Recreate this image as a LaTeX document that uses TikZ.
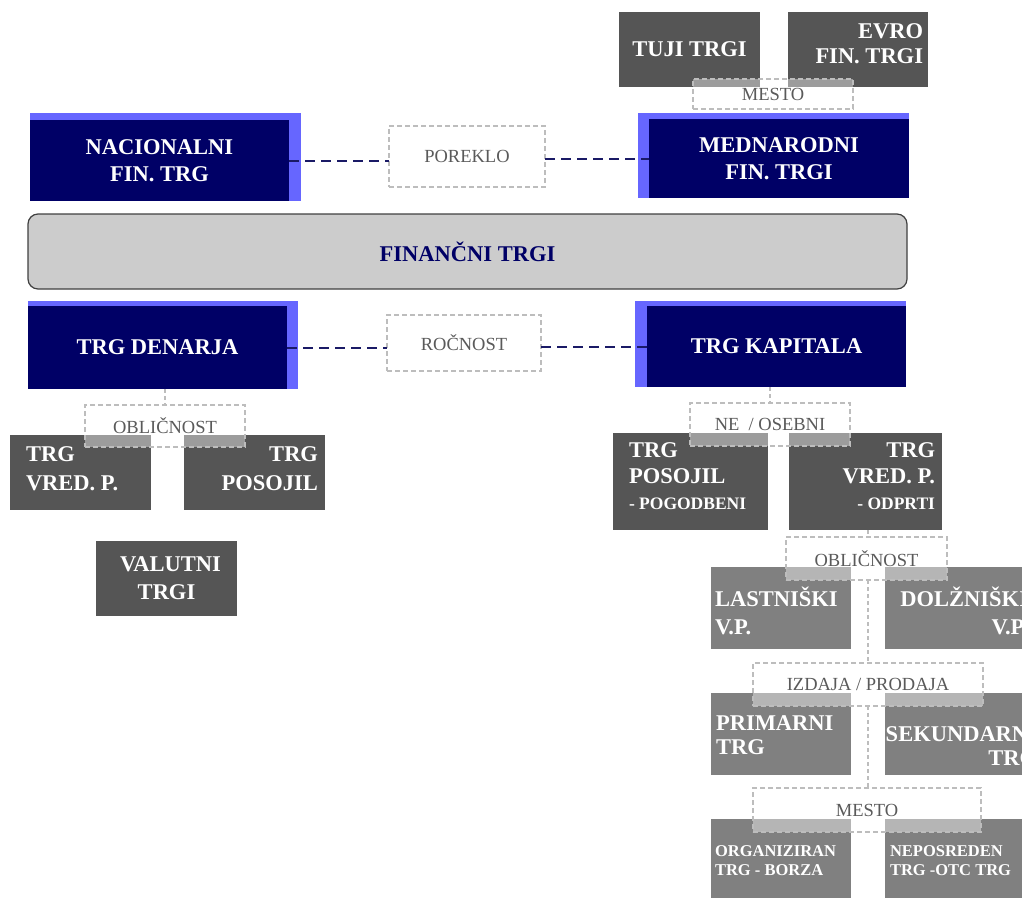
\documentclass[tikz,border=0pt]{standalone}
\usepackage{fontspec}
\setmainfont{Liberation Serif}
\definecolor{navy}{HTML}{000066}
\definecolor{lblue}{HTML}{6666FF}
\definecolor{dgray}{HTML}{555555}
\definecolor{mgray}{HTML}{808080}
\definecolor{lgray}{HTML}{CCCCCC}
\definecolor{lbl}{HTML}{5A5A5A}
\definecolor{dsh}{HTML}{BDBDBD}
\definecolor{ncol}{HTML}{1A1A66}
\begin{document}
\begin{tikzpicture}[x=1pt,y=-1pt,
 every node/.style={inner sep=0pt, outer sep=0pt},
 boxsz/.style 2 args={minimum width=#1pt, minimum height=#2pt},
 dbox/.style={fill=dgray},
 mbox/.style={fill=mgray},
 sbox/.style={fill=lblue},
 wtxt/.style={text=white, font=\fontsize{22.5}{#1}\selectfont\bfseries},
 nbox/.style={fill=navy, wtxt=27, align=center},
 lab/.style={draw=dsh, dash pattern=on 5pt off 3pt, line width=1.1pt, fill=white,
   fill opacity=0.42, text opacity=1, draw opacity=1, text=lbl,
   font=\fontsize{18.5}{22}\selectfont},
 ncon/.style={draw=ncol, dash pattern=on 10pt off 6pt, line width=2pt},
 gcon/.style={draw=dsh, dash pattern=on 4pt off 3pt, line width=1.1pt}
]
\useasboundingbox (0,0) rectangle (1022,897);
\clip (0,0) rectangle (1022,897);

% top: international
\node[dbox, boxsz={141}{75}, wtxt=27] (tuji) at (689.5,49.5) {TUJI TRGI};
\node[dbox, boxsz={140}{75}] (evro) at (858,49.5) {};
\node[wtxt=24.5, align=right, anchor=east] (evroT) at (923,43.7) {EVRO\\FIN. TRGI};
\node[lab, boxsz={160}{30}] (mestoA) at (773,94) {MESTO};

\node[sbox, boxsz={271}{85}] (medB) at (773.5,155.5) {};
\node[nbox, boxsz={260}{79}] (med) at (779,158.5) {MEDNARODNI\\FIN. TRGI};
\node[sbox, boxsz={271}{88}] (nacB) at (165.5,157) {};
\node[nbox, boxsz={259}{81}] (nac) at (159.5,160.5) {NACIONALNI\\FIN. TRG};
\node[lab, boxsz={156}{61}] (poreklo) at (467,156.5) {POREKLO};
\draw[ncon] (nac.east) -- (nac.east -| poreklo.west);
\draw[ncon] (poreklo.east |- med.west) -- (med.west);

% central
\node[draw=black!75, line width=1.2pt, fill=lgray, rounded corners=10pt, boxsz={879}{75},
  text=navy, font=\fontsize{22.5}{27}\selectfont\bfseries] (fin) at (467.5,251.5) {FINANČNI TRGI};

% maturity
\node[sbox, boxsz={270}{88}] (denB) at (163,345) {};
\node[nbox, boxsz={259}{83}] (den) at (157.5,347.5) {TRG DENARJA};
\node[sbox, boxsz={271}{86}] (kapB) at (770.5,344) {};
\node[nbox, boxsz={259}{81}] (kap) at (776.5,346.5) {TRG KAPITALA};
\node[lab, boxsz={154}{56}] (rocnost) at (464,343) {ROČNOST};
\draw[ncon] (den.east) -- (den.east -| rocnost.west);
\draw[ncon] (rocnost.east |- kap.west) -- (kap.west);

% money market branch
\node[dbox, boxsz={141}{75}] (tvp) at (80.5,472.5) {};
\node[wtxt=29, align=left, anchor=west] (tvpT) at (26,468.5) {TRG\\VRED. P.};
\node[dbox, boxsz={141}{75}] (tpos) at (254.5,472.5) {};
\node[wtxt=29, align=right, anchor=east] (tposT) at (318,468.5) {TRG\\POSOJIL};
\node[lab, boxsz={160}{42}] (oblL) at (165,426) {OBLIČNOST};
\draw[gcon] (den.south -| oblL.north) -- (oblL.north);
\node[dbox, boxsz={141}{75}, wtxt=28, align=center] (val) at (166.5,578.5) {\hspace*{8pt}VALUTNI\\TRGI};

% capital market branch
\node[dbox, boxsz={155}{97}] (tposk) at (690.5,481.5) {};
\node[wtxt=26, align=left, anchor=west] (tposkT) at (629,476) {TRG\\POSOJIL\\{\fontsize{17.5}{20}\selectfont - POGODBENI}};
\node[dbox, boxsz={153}{97}] (tvpk) at (865.5,481.5) {};
\node[wtxt=26, align=right, anchor=east] (tvpkT) at (935,476) {TRG\\VRED. P.\\{\fontsize{17.5}{20}\selectfont - ODPRTI}};
\node[lab, boxsz={160}{43}] (neos) at (770,424.5) {NE\ \ / OSEBNI};
\draw[gcon] (kap.south -| neos.north) -- (neos.north);

\node[mbox, boxsz={140}{82}] (last) at (781,608) {};
\node[wtxt=28, align=left, anchor=west] (lastT) at (715,611) {LASTNIŠKI\\V.P.};
\node[mbox, boxsz={160}{82}] (dolz) at (965,608) {};
\node[wtxt=28, align=right, anchor=east] (dolzT) at (1028,611) {DOLŽNIŠKI\\V.P.};

\node[mbox, boxsz={140}{82}] (prim) at (781,734) {};
\node[wtxt=24, align=left, anchor=west] (primT) at (716,735.5) {PRIMARNI\\TRG};
\node[mbox, boxsz={160}{82}] (sek) at (965,734) {};
\node[wtxt=24, align=right, anchor=east] (sekT) at (1037,746) {SEKUNDARNI\\TRG};

\node[mbox, boxsz={140}{86}] (org) at (781,862) {};
\node[text=white, font=\fontsize{16.5}{19.5}\selectfont\bfseries, align=left, anchor=west] (orgT) at (715,860.5) {ORGANIZIRAN\\TRG - BORZA};
\node[mbox, boxsz={145}{86}] (nep) at (957.5,862) {};
\node[text=white, font=\fontsize{16.5}{19.5}\selectfont\bfseries, align=left, anchor=west] (nepT) at (890,860.5) {NEPOSREDEN\\TRG -OTC TRG};

\node[lab, boxsz={161}{43}] (oblR) at (866.5,558.5) {OBLIČNOST};
\node[lab, boxsz={230}{43}] (izd) at (868,684.5) {IZDAJA / PRODAJA};
\node[lab, boxsz={228}{44}] (mestoB) at (867,810) {MESTO};
\draw[gcon] (tvpk.south -| izd.north) -- (oblR.north -| izd.north);
\draw[gcon] (oblR.south -| izd.north) -- (izd.north);
\draw[gcon] (izd.south) -- (mestoB.north -| izd.south);
\end{tikzpicture}
\end{document}
